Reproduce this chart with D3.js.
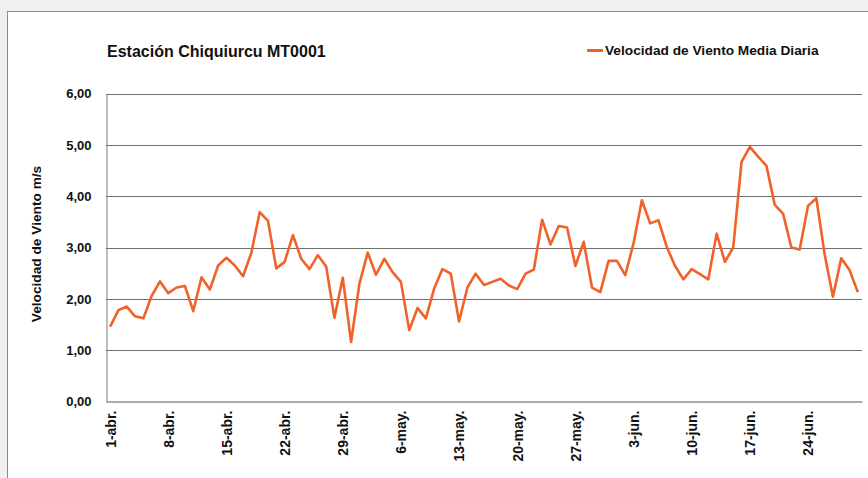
<!DOCTYPE html>
<html>
<head>
<meta charset="utf-8">
<script src="https://cdn.jsdelivr.net/npm/d3@7"></script>
<style>
  body { margin: 0; background: #f0f0f0; }
  text { font-family: "Liberation Sans", Arial, sans-serif; font-weight: bold; fill: #111; }
</style>
</head>
<body>
<div id="chart"></div>
<script>
// Days from 1-abr to 30-jun
const dates = d3.timeDay.range(new Date(2015, 3, 1), new Date(2015, 6, 1));
const monthAbbr = ["ene.", "feb.", "mar.", "abr.", "may.", "jun.", "jul.", "ago.", "sep.", "oct.", "nov.", "dic."];

// Daily mean wind speed (m/s)
const velocidad = [
  1.46, 1.78, 1.85, 1.66, 1.62, 2.06, 2.34, 2.11, 2.22, 2.25,
  1.76, 2.42, 2.18, 2.65, 2.80, 2.65, 2.44, 2.90, 3.69, 3.52,
  2.59, 2.72, 3.24, 2.78, 2.58, 2.85, 2.63, 1.63, 2.41, 1.16,
  2.29, 2.90, 2.47, 2.78, 2.52, 2.33, 1.39, 1.82, 1.62, 2.20,
  2.58, 2.49, 1.56, 2.22, 2.49, 2.27, 2.33, 2.39, 2.26, 2.19,
  2.49, 2.57, 3.54, 3.06, 3.42, 3.39, 2.64, 3.11, 2.22, 2.13,
  2.74, 2.74, 2.46, 3.08, 3.92, 3.47, 3.53, 3.01, 2.64, 2.38,
  2.58, 2.48, 2.38, 3.27, 2.72, 3.00, 4.67, 4.96, 4.77, 4.59,
  3.83, 3.66, 3.00, 2.96, 3.81, 3.96, 2.87, 2.04, 2.79, 2.56,
  2.13
];

const tickLabels = ["1-abr.", "8-abr.", "15-abr.", "22-abr.", "29-abr.", "6-may.", "13-may.",
  "20-may.", "27-may.", "3-jun.", "10-jun.", "17-jun.", "24-jun."];
const yTicks = [0, 1, 2, 3, 4, 5, 6];

const label = d => `${d.getDate()}-${monthAbbr[d.getMonth()]}`;
const categories = dates.map(label);

const width = 868;
const height = 478;
const plot = { left: 106, right: 862, top: 93.5, bottom: 401.5 };
const lineColor = "#f1612a";

const svg = d3.select("#chart")
  .append("svg")
  .attr("width", width)
  .attr("height", height);

// Chart frame
svg.append("rect")
  .attr("x", 7.5)
  .attr("y", 11.5)
  .attr("width", width)
  .attr("height", height)
  .attr("fill", "#fff")
  .attr("stroke", "#8c8c8c");

const x = d3.scalePoint()
  .domain(categories)
  .range([plot.left, plot.right])
  .padding(0.5);

const y = d3.scaleLinear()
  .domain([0, 6])
  .range([plot.bottom, plot.top]);

// Gridlines
svg.append("g")
  .selectAll("line")
  .data(yTicks.filter(d => d > 0))
  .join("line")
  .attr("x1", plot.left)
  .attr("x2", plot.right)
  .attr("y1", d => Math.round(y(d)) + 0.5)
  .attr("y2", d => Math.round(y(d)) + 0.5)
  .attr("stroke", "#6f6f6f")
  .attr("stroke-width", 1);

// Y axis
const yAxis = svg.append("g")
  .attr("transform", `translate(${plot.left + 0.5},0)`)
  .call(d3.axisLeft(y).tickValues(yTicks).tickSize(0).tickPadding(15)
    .tickFormat(d => d3.format(".2f")(d).replace(".", ",")));
yAxis.select(".domain").attr("stroke", "#7f7f7f");
yAxis.selectAll("text").style("font-size", "13px").attr("fill", "#111");

// X axis
const xAxis = svg.append("g")
  .attr("transform", `translate(0,${plot.bottom})`)
  .call(d3.axisBottom(x).tickValues(tickLabels).tickSize(0));
xAxis.select(".domain").attr("stroke", "#595959");
xAxis.selectAll("text")
  .style("font-size", "14px")
  .attr("fill", "#111")
  .attr("text-anchor", "end")
  .attr("transform", "rotate(-90)")
  .attr("x", -9)
  .attr("y", 0)
  .attr("dy", "0.35em");

// Series line
svg.append("path")
  .datum(velocidad)
  .attr("fill", "none")
  .attr("stroke", lineColor)
  .attr("stroke-width", 2.6)
  .attr("stroke-linejoin", "round")
  .attr("d", d3.line()
    .x((d, i) => x(categories[i]))
    .y(d => y(d)));

// Title
svg.append("text")
  .attr("x", 107)
  .attr("y", 56.5)
  .style("font-size", "16px")
  .text("Estación Chiquiurcu MT0001");

// Legend
svg.append("line")
  .attr("x1", 587)
  .attr("x2", 603)
  .attr("y1", 50.5)
  .attr("y2", 50.5)
  .attr("stroke", lineColor)
  .attr("stroke-width", 3);
svg.append("text")
  .attr("x", 605)
  .attr("y", 55)
  .style("font-size", "13.7px")
  .text("Velocidad de Viento Media Diaria");

// Y axis title
svg.append("text")
  .attr("transform", "translate(41,244) rotate(-90)")
  .attr("text-anchor", "middle")
  .style("font-size", "13.7px")
  .text("Velocidad de Viento m/s");
</script>
</body>
</html>
